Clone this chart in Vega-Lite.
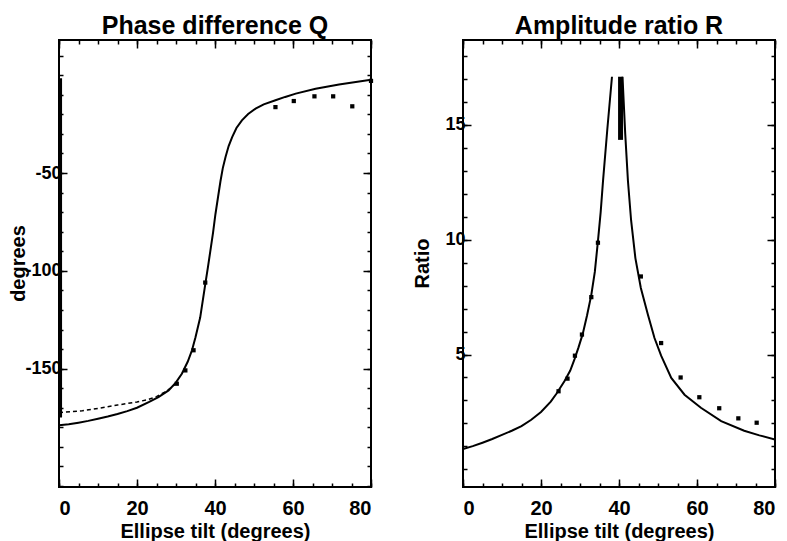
{
  "$schema": "https://vega.github.io/schema/vega-lite/v6.json",
  "background": "white",
  "padding": {"left": 7, "top": 13, "right": 5, "bottom": 5},
  "spacing": 36,
  "config": {
    "font": "Liberation Sans",
    "view": {"stroke": "black", "strokeWidth": 2},
    "axis": {"domain": false, "grid": false, "tickColor": "black", "tickWidth": 1.5, "labelColor": "black", "titleColor": "black", "labelFont": "Liberation Sans", "titleFont": "Liberation Sans", "labelFontWeight": "bold", "titleFontWeight": "bold"},
    "title": {"font": "Liberation Sans", "color": "black"}
  },
  "datasets": {
    "qfit": [
      {"x": 0, "y": -179}, {"x": 2.5, "y": -178.4}, {"x": 5, "y": -177.6}, {"x": 7.5, "y": -176.7}, {"x": 10, "y": -175.6},
      {"x": 12.5, "y": -174.5}, {"x": 15, "y": -173.2}, {"x": 17.5, "y": -171.7}, {"x": 20, "y": -170},
      {"x": 23, "y": -167.1}, {"x": 25.5, "y": -164.5}, {"x": 28.1, "y": -161.1}, {"x": 30, "y": -157}, {"x": 31.5, "y": -152.6},
      {"x": 33, "y": -146.5}, {"x": 34.1, "y": -140.6}, {"x": 35, "y": -134}, {"x": 36.2, "y": -123.9}, {"x": 37.5, "y": -106.9},
      {"x": 38.2, "y": -98}, {"x": 38.8, "y": -89.9}, {"x": 39.5, "y": -80.5}, {"x": 40.1, "y": -71.2}, {"x": 40.8, "y": -62},
      {"x": 41.4, "y": -54.2}, {"x": 42, "y": -47.5}, {"x": 42.7, "y": -41.8}, {"x": 43.5, "y": -36.2}, {"x": 44.4, "y": -31.6},
      {"x": 45.5, "y": -27}, {"x": 46.9, "y": -23.1}, {"x": 48.5, "y": -19.8}, {"x": 50.4, "y": -17.1}, {"x": 52.5, "y": -14.9},
      {"x": 55.5, "y": -12.8}, {"x": 58, "y": -11.1}, {"x": 60.7, "y": -9.4}, {"x": 65.8, "y": -6.9}, {"x": 71.8, "y": -4.8},
      {"x": 80, "y": -2.3}
    ],
    "qobs": [
      {"x": 0, "y": -172.5}, {"x": 3, "y": -172}, {"x": 6, "y": -171.5}, {"x": 10, "y": -170.3}, {"x": 15, "y": -168.6},
      {"x": 20, "y": -167}, {"x": 22.5, "y": -166}, {"x": 25, "y": -164.3}, {"x": 27.5, "y": -161.6}, {"x": 30, "y": -157.7}
    ],
    "qpts": [
      {"x": 30.2, "y": -157.7}, {"x": 32.4, "y": -150.9}, {"x": 34.5, "y": -140.6}, {"x": 37.5, "y": -106},
      {"x": 55.5, "y": -16.3}, {"x": 60.2, "y": -13.2}, {"x": 65.5, "y": -10.8}, {"x": 70.3, "y": -10.8},
      {"x": 75.2, "y": -15.9}, {"x": 80, "y": -2.9}
    ],
    "qbar": [{"x": 0.4, "y": -1.5, "y2": -175}],
    "rfit": [
      {"branch": "a", "x": 0, "y": 0.88}, {"branch": "a", "x": 2.5, "y": 1.01}, {"branch": "a", "x": 5, "y": 1.16},
      {"branch": "a", "x": 7.5, "y": 1.32}, {"branch": "a", "x": 10, "y": 1.5}, {"branch": "a", "x": 12.5, "y": 1.68},
      {"branch": "a", "x": 15, "y": 1.88}, {"branch": "a", "x": 17.5, "y": 2.16}, {"branch": "a", "x": 20, "y": 2.5},
      {"branch": "a", "x": 22.5, "y": 2.95},
      {"branch": "a", "x": 24, "y": 3.3}, {"branch": "a", "x": 26, "y": 3.84}, {"branch": "a", "x": 27.5, "y": 4.3},
      {"branch": "a", "x": 28.6, "y": 4.8}, {"branch": "a", "x": 29.6, "y": 5.3}, {"branch": "a", "x": 30.7, "y": 5.9},
      {"branch": "a", "x": 31.8, "y": 6.7}, {"branch": "a", "x": 32.9, "y": 7.6}, {"branch": "a", "x": 33.8, "y": 8.6},
      {"branch": "a", "x": 34.6, "y": 9.94}, {"branch": "a", "x": 35.3, "y": 11.2}, {"branch": "a", "x": 35.9, "y": 12.55},
      {"branch": "a", "x": 37, "y": 14.8}, {"branch": "a", "x": 38.2, "y": 17.1},
      {"branch": "b", "x": 40.9, "y": 17.1}, {"branch": "b", "x": 41.6, "y": 14.6}, {"branch": "b", "x": 42.3, "y": 12.55},
      {"branch": "b", "x": 43.1, "y": 10.85}, {"branch": "b", "x": 44.2, "y": 9.2}, {"branch": "b", "x": 45.6, "y": 7.9},
      {"branch": "b", "x": 47.4, "y": 6.74}, {"branch": "b", "x": 49.1, "y": 5.72}, {"branch": "b", "x": 50.8, "y": 4.95},
      {"branch": "b", "x": 53.4, "y": 3.98}, {"branch": "b", "x": 56.8, "y": 3.25}, {"branch": "b", "x": 61, "y": 2.68},
      {"branch": "b", "x": 66.2, "y": 2.1}, {"branch": "b", "x": 72.1, "y": 1.68}, {"branch": "b", "x": 76, "y": 1.48},
      {"branch": "b", "x": 80, "y": 1.3}
    ],
    "robs": [
      {"x": 24.5, "y": 3.4}, {"x": 26.8, "y": 3.95}, {"x": 28.7, "y": 4.95}, {"x": 30.5, "y": 5.87}, {"x": 32.9, "y": 7.5},
      {"x": 34.6, "y": 9.87}, {"x": 45.6, "y": 8.4}, {"x": 50.8, "y": 5.5}, {"x": 55.8, "y": 4.0}, {"x": 60.6, "y": 3.14},
      {"x": 65.7, "y": 2.66}, {"x": 70.6, "y": 2.22}, {"x": 75.3, "y": 2.03}
    ],
    "rbar": [{"x": 40.4, "y": 14.35, "y2": 17.1}]
  },
  "hconcat": [
    {
      "width": 312,
      "height": 447,
      "title": {"text": "Phase difference Q", "fontSize": 25, "fontWeight": "bold", "anchor": "middle", "offset": 0},
      "resolve": {"axis": {"x": "independent", "y": "independent"}},
      "layer": [
        {
          "data": {"name": "qfit"},
          "mark": {"type": "line", "color": "black", "strokeWidth": 2, "clip": true},
          "encoding": {
            "x": {"field": "x", "type": "quantitative", "scale": {"domain": [0, 80], "nice": false, "zero": false},
                  "axis": {"orient": "bottom", "values": [0, 20, 40, 60, 80], "tickSize": -8, "labelPadding": 19, "labelFontSize": 20, "title": "Ellipse tilt (degrees)", "titleFontSize": 20, "titlePadding": 3}},
            "y": {"field": "y", "type": "quantitative", "scale": {"domain": [-210.5, 18], "nice": false, "zero": false},
                  "axis": {"orient": "left", "values": [-150, -100, -50], "tickSize": -8, "labelPadding": 6, "labelFontSize": 18, "labelExpr": "datum.value < 0 ? '-' + abs(datum.value) : '' + datum.value", "title": "degrees", "titleFontSize": 20, "titleX": -41, "titleY": 223, "titleAngle": -90, "titleAlign": "center", "titleBaseline": "middle"}}
          }
        },
        {
          "data": {"name": "qobs"},
          "mark": {"type": "line", "color": "black", "strokeWidth": 1.5, "strokeDash": [4, 3], "clip": true},
          "encoding": {
            "x": {"field": "x", "type": "quantitative", "scale": {"domain": [0, 80], "nice": false, "zero": false},
                  "axis": {"orient": "bottom", "values": [0, 5, 10, 15, 20, 25, 30, 35, 40, 45, 50, 55, 60, 65, 70, 75, 80], "tickSize": -4, "labels": false, "title": null}},
            "y": {"field": "y", "type": "quantitative", "scale": {"domain": [-210.5, 18], "nice": false, "zero": false},
                  "axis": {"orient": "left", "values": [-210, -200, -190, -180, -170, -160, -150, -140, -130, -120, -110, -100, -90, -80, -70, -60, -50, -40, -30, -20, -10, 0, 10], "tickSize": -4, "labels": false, "title": null}}
          }
        },
        {
          "data": {"name": "qpts"},
          "mark": {"type": "square", "color": "black", "filled": true, "size": 18, "opacity": 1},
          "encoding": {
            "x": {"field": "x", "type": "quantitative", "scale": {"domain": [0, 80], "nice": false, "zero": false},
                  "axis": {"orient": "top", "values": [0, 20, 40, 60, 80], "tickSize": -8, "labels": false, "title": null}},
            "y": {"field": "y", "type": "quantitative", "scale": {"domain": [-210.5, 18], "nice": false, "zero": false},
                  "axis": {"orient": "right", "values": [-150, -100, -50], "tickSize": -8, "labels": false, "title": null}}
          }
        },
        {
          "data": {"name": "qbar"},
          "mark": {"type": "rule", "color": "black", "strokeWidth": 3},
          "encoding": {
            "x": {"field": "x", "type": "quantitative", "scale": {"domain": [0, 80], "nice": false, "zero": false},
                  "axis": {"orient": "top", "values": [0, 5, 10, 15, 20, 25, 30, 35, 40, 45, 50, 55, 60, 65, 70, 75, 80], "tickSize": -4, "labels": false, "title": null}},
            "y": {"field": "y", "type": "quantitative", "scale": {"domain": [-210.5, 18], "nice": false, "zero": false},
                  "axis": {"orient": "right", "values": [-210, -200, -190, -180, -170, -160, -150, -140, -130, -120, -110, -100, -90, -80, -70, -60, -50, -40, -30, -20, -10, 0, 10], "tickSize": -4, "labels": false, "title": null}},
            "y2": {"field": "y2"}
          }
        }
      ]
    },
    {
      "width": 312,
      "height": 447,
      "title": {"text": "Amplitude ratio R", "fontSize": 25, "fontWeight": "bold", "anchor": "middle", "offset": 0},
      "resolve": {"axis": {"x": "independent", "y": "independent"}},
      "layer": [
        {
          "data": {"name": "rfit"},
          "mark": {"type": "line", "color": "black", "strokeWidth": 2, "clip": true},
          "encoding": {
            "x": {"field": "x", "type": "quantitative", "scale": {"domain": [0, 80], "nice": false, "zero": false},
                  "axis": {"orient": "bottom", "values": [0, 20, 40, 60, 80], "tickSize": -8, "labelPadding": 19, "labelFontSize": 20, "title": "Ellipse tilt (degrees)", "titleFontSize": 20, "titlePadding": 3}},
            "y": {"field": "y", "type": "quantitative", "scale": {"domain": [-0.77, 18.7], "nice": false, "zero": false},
                  "axis": {"orient": "left", "values": [5, 10, 15], "tickSize": -8, "labelPadding": 6, "labelFontSize": 18, "title": "Ratio", "titleFontSize": 20, "titleX": -41, "titleY": 223, "titleAngle": -90, "titleAlign": "center", "titleBaseline": "middle"}},
            "detail": {"field": "branch"}
          }
        },
        {
          "data": {"name": "robs"},
          "mark": {"type": "square", "color": "black", "filled": true, "size": 18, "opacity": 1},
          "encoding": {
            "x": {"field": "x", "type": "quantitative", "scale": {"domain": [0, 80], "nice": false, "zero": false},
                  "axis": {"orient": "bottom", "values": [0, 5, 10, 15, 20, 25, 30, 35, 40, 45, 50, 55, 60, 65, 70, 75, 80], "tickSize": -4, "labels": false, "title": null}},
            "y": {"field": "y", "type": "quantitative", "scale": {"domain": [-0.77, 18.7], "nice": false, "zero": false},
                  "axis": {"orient": "left", "values": [0, 1, 2, 3, 4, 5, 6, 7, 8, 9, 10, 11, 12, 13, 14, 15, 16, 17, 18], "tickSize": -4, "labels": false, "title": null}}
          }
        },
        {
          "data": {"name": "rbar"},
          "mark": {"type": "rule", "color": "black", "strokeWidth": 5},
          "encoding": {
            "x": {"field": "x", "type": "quantitative", "scale": {"domain": [0, 80], "nice": false, "zero": false},
                  "axis": {"orient": "top", "values": [0, 20, 40, 60, 80], "tickSize": -8, "labels": false, "title": null}},
            "y": {"field": "y", "type": "quantitative", "scale": {"domain": [-0.77, 18.7], "nice": false, "zero": false},
                  "axis": {"orient": "right", "values": [5, 10, 15], "tickSize": -8, "labels": false, "title": null}},
            "y2": {"field": "y2"}
          }
        },
        {
          "data": {"name": "robs"},
          "mark": {"type": "square", "color": "black", "filled": true, "size": 18, "opacity": 0},
          "encoding": {
            "x": {"field": "x", "type": "quantitative", "scale": {"domain": [0, 80], "nice": false, "zero": false},
                  "axis": {"orient": "top", "values": [0, 5, 10, 15, 20, 25, 30, 35, 40, 45, 50, 55, 60, 65, 70, 75, 80], "tickSize": -4, "labels": false, "title": null}},
            "y": {"field": "y", "type": "quantitative", "scale": {"domain": [-0.77, 18.7], "nice": false, "zero": false},
                  "axis": {"orient": "right", "values": [0, 1, 2, 3, 4, 5, 6, 7, 8, 9, 10, 11, 12, 13, 14, 15, 16, 17, 18], "tickSize": -4, "labels": false, "title": null}}
          }
        }
      ]
    }
  ]
}
